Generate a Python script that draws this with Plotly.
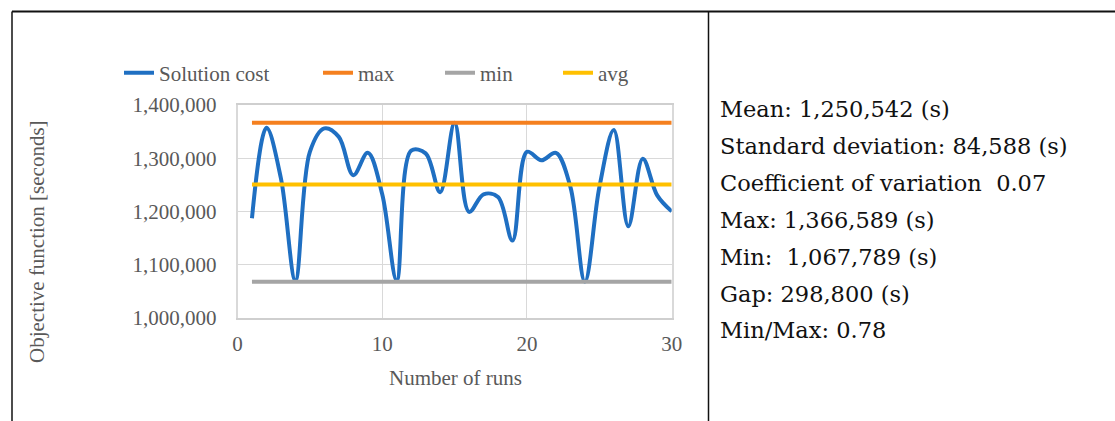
import plotly.graph_objects as go

runs = list(range(1, 31))
solution_cost = [1187000, 1357000, 1262000, 1070000, 1312000, 1356000, 1340000, 1268000, 1310000, 1232000,
                 1070000, 1314000, 1309000, 1236000, 1366589, 1199000, 1232000, 1227000, 1145000, 1312000,
                 1296000, 1310000, 1246000, 1067789, 1245000, 1353000, 1172000, 1299000, 1230000, 1200000]
max_val = 1366589
min_val = 1067789
avg_val = 1250542

series_names = ["Solution cost", "max", "min", "avg"]
series_colors = ["#1f6fc2", "#f5801f", "#a5a5a5", "#ffc000"]

x_ticks = [0, 10, 20, 30]
y_ticks = [1000000, 1100000, 1200000, 1300000, 1400000]

stats_lines = [
    "Mean: 1,250,542 (s)",
    "Standard deviation: 84,588 (s)",
    "Coefficient of variation  0.07",
    "Max: 1,366,589 (s)",
    "Min:  1,067,789 (s)",
    "Gap: 298,800 (s)",
    "Min/Max: 0.78",
]

W, H = 1115, 421
GRAY = "#595959"
CHART_FONT = "Liberation Serif"
FS = 21


def px_x(p):
    return p / W


def px_y(p):
    return 1 - p / H


fig = go.Figure()
series_values = [solution_cost, [max_val] * len(runs), [min_val] * len(runs), [avg_val] * len(runs)]
legend_ids = ["legend", "legend2", "legend3", "legend4"]
for name, vals, col, lid in zip(series_names, series_values, series_colors, legend_ids):
    line = dict(color=col, width=4)
    if name == "Solution cost":
        line.update(shape="spline", smoothing=1.0)
    fig.add_trace(go.Scatter(x=runs, y=vals, mode="lines", name=name, line=line, legend=lid))

# legend text left edges in the reference (pixels)
legend_text_x = [159, 358, 480, 598]
legend_layout = {}
for lid, tx in zip(legend_ids, legend_text_x):
    legend_layout[lid] = dict(orientation="h", x=px_x(tx - 40), xanchor="left", y=px_y(73), yanchor="middle",
                              font=dict(family=CHART_FONT, size=FS, color=GRAY),
                              bgcolor="rgba(0,0,0,0)", borderwidth=0)

fig.update_layout(
    width=W, height=H,
    margin=dict(l=0, r=0, t=0, b=0, autoexpand=False),
    paper_bgcolor="white", plot_bgcolor="white",
    font=dict(family=CHART_FONT, size=FS, color=GRAY),
    showlegend=True,
    xaxis=dict(domain=[px_x(237.5), px_x(671.7)], range=[0, 30], tickvals=x_ticks,
               showgrid=True, gridcolor="#d9d9d9", gridwidth=1, zeroline=False,
               showline=True, linecolor="#cfcfcf", linewidth=1.5, mirror=True, automargin=False,
               ticks="", ticklabelstandoff=6, tickfont=dict(size=FS, color=GRAY)),
    yaxis=dict(domain=[px_y(317.7), px_y(105)], range=[1000000, 1400000],
               tickvals=y_ticks, tickformat=",d", automargin=False,
               showgrid=True, gridcolor="#d9d9d9", gridwidth=1, zeroline=False,
               showline=True, linecolor="#d9d9d9", linewidth=1.5, mirror=True,
               ticks="", ticklabelstandoff=15, tickfont=dict(size=FS, color=GRAY)),
    **legend_layout,
)

# axis titles
fig.add_annotation(text="Objective function [seconds]", xref="paper", yref="paper",
                   x=px_x(37), y=px_y(242), textangle=-90, showarrow=False,
                   font=dict(family=CHART_FONT, size=FS, color=GRAY), xanchor="center", yanchor="middle")
fig.add_annotation(text="Number of runs", xref="paper", yref="paper",
                   x=px_x(455), y=px_y(378), showarrow=False,
                   font=dict(family=CHART_FONT, size=FS, color=GRAY), xanchor="center", yanchor="middle")

# statistics text on the right
for k, line_text in enumerate(stats_lines):
    b = 117 + 36.9 * k
    fig.add_annotation(text=line_text, xref="paper", yref="paper", x=px_x(718), y=px_y(b - 8),
                       showarrow=False, xanchor="left", yanchor="middle",
                       font=dict(family="DejaVu Serif", size=22.5, color="#111111"))

# table borders
fig.add_shape(type="line", xref="paper", yref="paper", x0=px_x(12), x1=1, y0=px_y(11.5), y1=px_y(11.5),
              line=dict(color="#111111", width=2))
fig.add_shape(type="line", xref="paper", yref="paper", x0=px_x(12), x1=px_x(12), y0=px_y(11.5), y1=0,
              line=dict(color="#111111", width=1.5))
fig.add_shape(type="line", xref="paper", yref="paper", x0=px_x(708.5), x1=px_x(708.5), y0=px_y(11.5), y1=0,
              line=dict(color="#111111", width=1.5))

fig.write_html("out.html", config={"displayModeBar": False},
               post_script="document.documentElement.style.margin='0';document.body.style.margin='0';"
                           "document.body.style.padding='0';document.body.style.overflow='hidden';")
